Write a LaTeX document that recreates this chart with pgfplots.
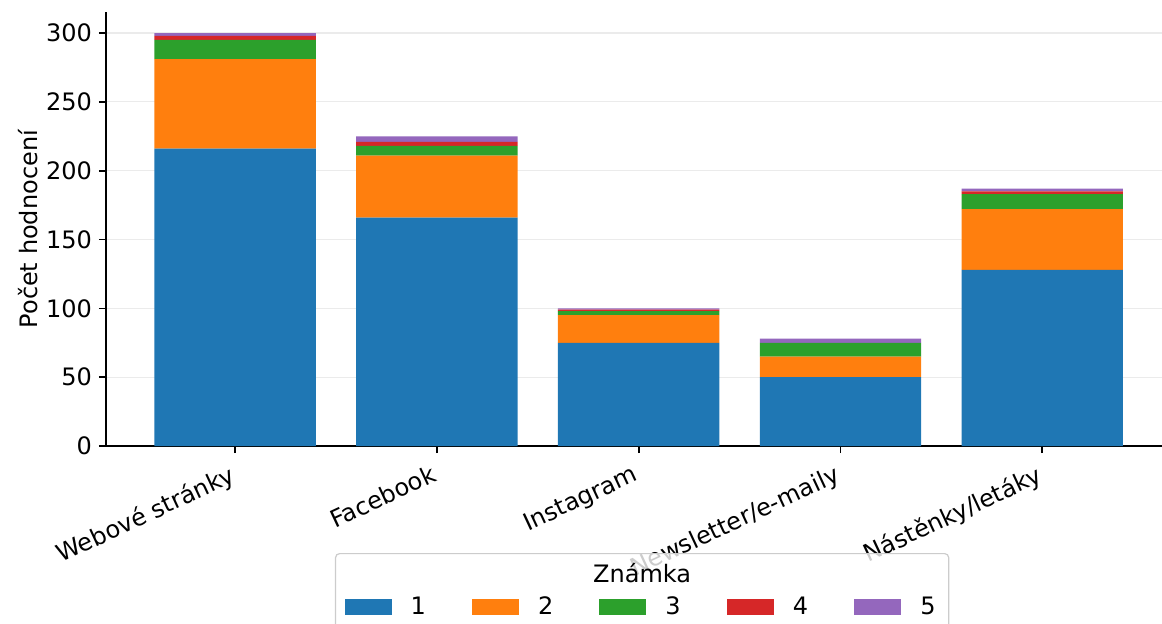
\documentclass[border=0pt]{standalone}
\usepackage{pgfplots}
\pgfplotsset{compat=1.18}
\usepackage{fontspec}
\setmainfont{DejaVu Sans}
\definecolor{c1}{HTML}{1F77B4}
\definecolor{c2}{HTML}{FF7F0E}
\definecolor{c3}{HTML}{2CA02C}
\definecolor{c4}{HTML}{D62728}
\definecolor{c5}{HTML}{9467BD}
\definecolor{gridc}{HTML}{EBEBEB}
\definecolor{framec}{HTML}{CCCCCC}
\pgfplotsset{
  sqleg/.style={legend image code/.code={\fill[##1,fill opacity=1,draw=none,sharp corners] (0pt,-4pt) rectangle (23.5pt,4pt);}}
}
\begin{document}
\begin{tikzpicture}[font=\fontsize{12pt}{14.4pt}\selectfont]
\path[use as bounding box] (0,0) rectangle (581pt,311.5pt);
\clip (0,0) rectangle (581pt,311.5pt);
\begin{axis}[
  at={(53pt,88.5pt)}, anchor=south west,
  scale only axis, width=532.7pt, height=216.8pt,
  ybar stacked, bar width=0.8,
  xmin=-0.64, xmax=4.64, ymin=0, ymax=315,
  axis lines=left, axis line style={-, line width=0.8pt, black},
  xtick={0,1,2,3,4},
  xticklabels={Webové stránky, Facebook, Instagram, Newsletter/e-maily, Nástěnky/letáky},
  ytick={0,50,100,150,200,250,300},
  tick align=outside, major tick length=3.5pt,
  tick style={line width=0.8pt, black},
  ymajorgrids, grid style={gridc, line width=0.6pt},
  /pgf/number format/assume math mode=true,
  tick label style={font=\fontsize{12pt}{14.4pt}\selectfont},
  xticklabel style={rotate=25, anchor=north east, xshift=-2pt},
  ylabel={Počet hodnocení},
  ylabel style={at={(axis description cs:-0.0732,0.5)}, anchor=center, font=\fontsize{12pt}{14.4pt}\selectfont},
  legend columns=5,
  legend style={at={(axis description cs:0.2149,-0.2468)}, anchor=north west,
    draw=framec, line width=0.6pt, fill=white, fill opacity=0.8, text opacity=1,
    rounded corners=2pt, inner xsep=4.5pt, inner ysep=19.4pt,
    font=\fontsize{12pt}{14.4pt}\selectfont,
    /tikz/every odd column/.append style={column sep=7.5pt},
    /tikz/every even column/.append style={column sep=21.1pt},
    label={[label distance=-18.6pt, font=\fontsize{12pt}{14.4pt}\selectfont, text opacity=1]north:Známka}},
]
\addplot[fill=c1, draw=none, sqleg] coordinates {(0,216) (1,166) (2,75) (3,50) (4,128)};
\addplot[fill=c2, draw=none, sqleg] coordinates {(0,65) (1,45) (2,20) (3,15) (4,44)};
\addplot[fill=c3, draw=none, sqleg] coordinates {(0,14) (1,7) (2,3) (3,10) (4,11)};
\addplot[fill=c4, draw=none, sqleg] coordinates {(0,3) (1,3) (2,1) (3,0) (4,2)};
\addplot[fill=c5, draw=none, sqleg] coordinates {(0,2) (1,4) (2,1) (3,3) (4,2)};
\legend{1,2,3,4,5}
\end{axis}
\end{tikzpicture}
\end{document}
